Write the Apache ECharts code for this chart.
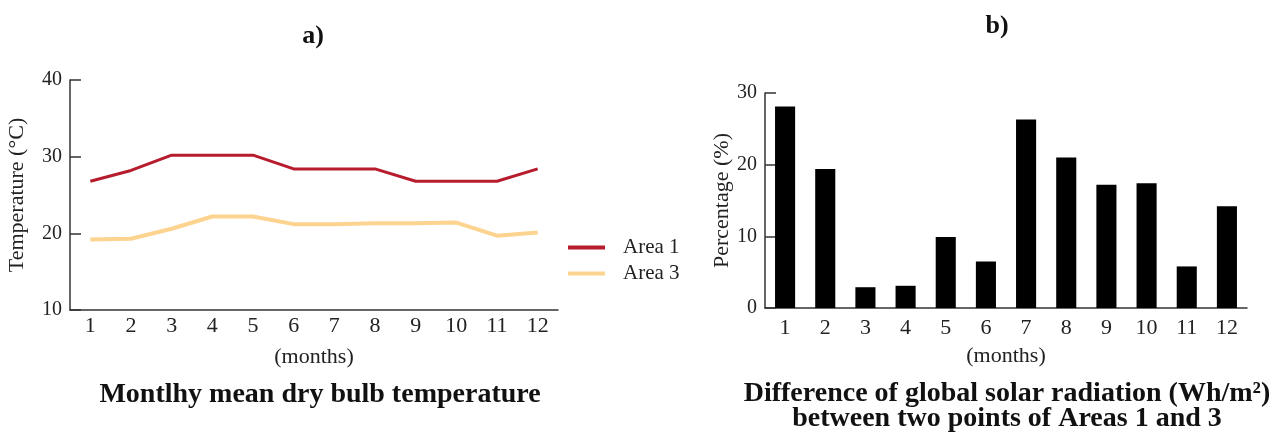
<!DOCTYPE html>
<html>
<head>
<meta charset="utf-8">
<script src="https://cdn.jsdelivr.net/npm/echarts@6/dist/echarts.min.js"></script>
<style>
html,body{margin:0;padding:0;background:#fff;}
#chart{width:1285px;height:432px;}
</style>
</head>
<body>
<div id="chart"></div>
<script>
const months = ['1','2','3','4','5','6','7','8','9','10','11','12'];
const area1Temp = [26.8, 28.2, 30.2, 30.2, 30.2, 28.4, 28.4, 28.4, 26.8, 26.8, 26.8, 28.4];
const area3Temp = [19.2, 19.3, 20.6, 22.2, 22.2, 21.2, 21.2, 21.3, 21.3, 21.4, 19.7, 20.1];
const radiationDiff = [28.1, 19.4, 2.9, 3.1, 9.9, 6.5, 26.3, 21.0, 17.2, 17.4, 5.8, 14.2];
const tempTicks = [10, 20, 30, 40];
const pctTicks = [0, 10, 20, 30];

const FONT = 'Liberation Serif';
const AX = '#333';

const chart = echarts.init(document.getElementById('chart'), null, {renderer: 'canvas'});

function catAxis(gridIndex, labelMargin, nameGap) {
  return {
    type: 'category', gridIndex, data: months, boundaryGap: true,
    name: '(months)', nameLocation: 'middle', nameGap,
    nameTextStyle: {fontFamily: FONT, fontSize: 22, color: '#222'},
    axisLine: {lineStyle: {color: AX, width: 1.5}},
    axisTick: {inside: true, length: 6, lineStyle: {color: AX, width: 1.5}},
    axisLabel: {fontFamily: FONT, fontSize: 22, color: '#222', margin: labelMargin}
  };
}
function valAxis(gridIndex, min, max, name, nameGap) {
  return {
    type: 'value', gridIndex, min, max, interval: 10,
    name, nameLocation: 'middle', nameGap,
    nameTextStyle: {fontFamily: FONT, fontSize: 22, color: '#222'},
    axisLine: {show: true, lineStyle: {color: AX, width: 1.5}},
    axisTick: {show: true, inside: true, length: 11, lineStyle: {color: AX, width: 1.5}},
    axisLabel: {fontFamily: FONT, fontSize: 20, color: '#222', margin: 8},
    splitLine: {show: false}
  };
}

const option = {
  backgroundColor: '#fff',
  animation: false,
  title: [
    {text: 'a)', left: 308, top: 18, textAlign: 'center',
     textStyle: {fontFamily: FONT, fontSize: 26, fontWeight: 'bold', color: '#111'}},
    {text: 'b)', left: 992, top: 8, textAlign: 'center',
     textStyle: {fontFamily: FONT, fontSize: 26, fontWeight: 'bold', color: '#111'}},
    {text: 'Montlhy mean dry bulb temperature', left: 315, top: 376, textAlign: 'center',
     textStyle: {fontFamily: FONT, fontSize: 28, lineHeight: 28, fontWeight: 'bold', color: '#111'}},
    {text: 'Difference of global solar radiation (Wh/m²)\nbetween two points of Areas 1 and 3', left: 1002, top: 376, textAlign: 'center',
     textStyle: {fontFamily: FONT, fontSize: 28, lineHeight: 25, fontWeight: 'bold', color: '#111'}}
  ],
  legend: {
    orient: 'vertical', left: 563, top: 232, icon: 'rect', itemWidth: 37, itemHeight: 4, itemGap: 5,
    textStyle: {fontFamily: FONT, fontSize: 21, color: '#222', padding: [0, 0, 0, 13]},
    data: ['Area 1', 'Area 3']
  },
  grid: [
    {left: 70, right: 727, top: 80, bottom: 122},
    {left: 765, right: 38, top: 93, bottom: 124}
  ],
  xAxis: [catAxis(0, 5, 36), catAxis(1, 9, 37)],
  yAxis: [valAxis(0, tempTicks[0], tempTicks[tempTicks.length-1], 'Temperature (°C)', 42),
          valAxis(1, pctTicks[0], pctTicks[pctTicks.length-1], 'Percentage (%)', 29)],
  series: [
    {name: 'Area 1', type: 'line', xAxisIndex: 0, yAxisIndex: 0, data: area1Temp,
     symbol: 'none', lineStyle: {color: '#b71c2c', width: 3}, itemStyle: {color: '#b71c2c'}},
    {name: 'Area 3', type: 'line', xAxisIndex: 0, yAxisIndex: 0, data: area3Temp,
     symbol: 'none', lineStyle: {color: '#fdd390', width: 4}, itemStyle: {color: '#fdd390'}},
    {name: 'diff', type: 'bar', xAxisIndex: 1, yAxisIndex: 1, data: radiationDiff,
     barWidth: '50%', itemStyle: {color: '#000'}}
  ]
};
chart.setOption(option);
</script>
</body>
</html>
